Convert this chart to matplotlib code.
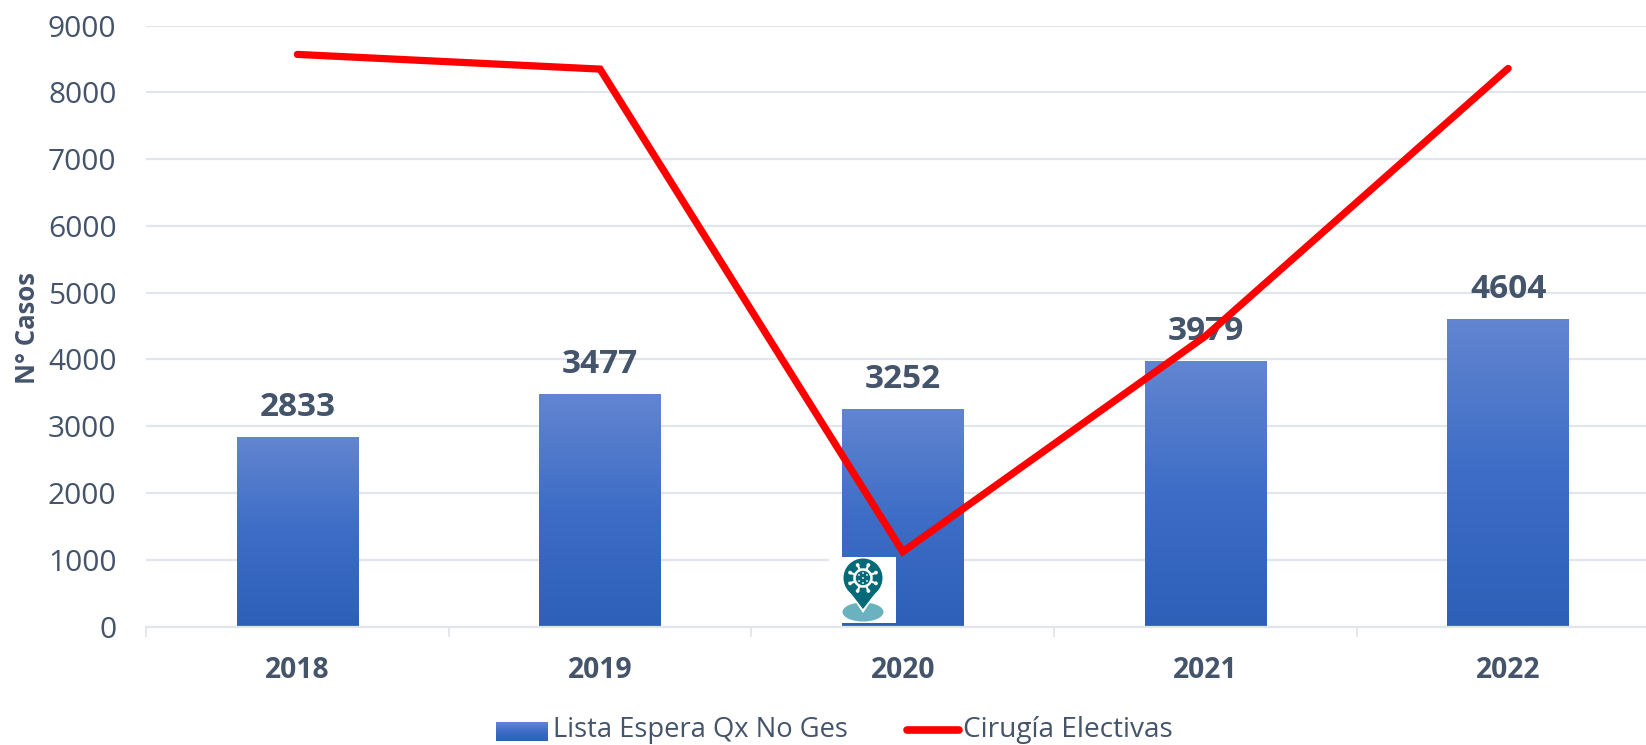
import numpy as np
import matplotlib
matplotlib.use('Agg')
import matplotlib.pyplot as plt
from matplotlib.colors import LinearSegmentedColormap
from matplotlib.patches import Rectangle, Circle, Ellipse, Polygon

years = ['2018', '2019', '2020', '2021', '2022']
lista_espera = [2833, 3477, 3252, 3979, 4604]
cirugias = [8570, 8350, 1120, 4350, 8360]
yticks = [0, 1000, 2000, 3000, 4000, 5000, 6000, 7000, 8000, 9000]

W, H = 1646, 745
txt = '#44546A'
grid = '#E2E6EC'
red = '#FF0000'
plt.rcParams['font.family'] = ['Open Sans', 'DejaVu Sans']

fig = plt.figure(figsize=(W/100, H/100), dpi=100)
ax = fig.add_axes([146/W, 1-626.5/H, (W-146)/W, (626.5-25.7)/H])

x = np.arange(5)
grad = LinearSegmentedColormap.from_list('g', ['#2E60B8', '#3D6DC6', '#6285D0'])
g = np.linspace(0, 1, 200).reshape(-1, 1)
w = 0.402
bars = ax.bar(x, lista_espera, width=w, color='none', zorder=2)
for b in bars:
    ax.imshow(g, cmap=grad, origin='lower', aspect='auto', zorder=2,
              extent=(b.get_x(), b.get_x()+w, 0, b.get_height()*0.997))

ax.plot(x, cirugias, color=red, lw=5.2, solid_capstyle='round',
        solid_joinstyle='miter', zorder=4)

for i, v in enumerate(lista_espera):
    ax.text(i, v+200, str(v), ha='center', va='bottom', fontsize=24,
            fontweight='bold', color=txt, zorder=3)

ax.set_xlim(-0.5, -0.5+(W-146)/302.7)
ax.set_ylim(0, 9000)
ax.set_yticks(yticks)
ax.set_xticks(x)
ax.set_xticklabels(years, fontsize=20.3, fontweight='bold', color=txt)
ax.set_xticks(np.arange(-0.5, 4.5, 1), minor=True)
ax.tick_params(axis='x', which='major', length=0, pad=21)
ax.tick_params(axis='x', which='minor', length=7, width=1.3, color=grid)
ax.tick_params(axis='y', length=0, pad=21.3, labelsize=21.5, labelcolor=txt)
ax.grid(axis='y', color=grid, lw=1.6, zorder=0)
ax.set_axisbelow(True)
for s in ['top', 'right', 'left']:
    ax.spines[s].set_visible(False)
ax.spines['bottom'].set_color(grid)
ax.spines['bottom'].set_linewidth(1.6)
ax.set_ylabel('N° Casos', fontsize=18.5, fontweight='bold', color=txt)
ax.yaxis.set_label_coords((41-146)/(W-146), 0.497)

# pixel overlay for the pasted pin icon and the legend
ov = fig.add_axes([0, 0, 1, 1], zorder=5)
ov.axis('off')
ov.patch.set_alpha(0)
ov.add_patch(Rectangle((829, 557), 67, 66, color='white', lw=0))
ov.add_patch(Ellipse((863, 612), 41, 19, color='#69B2BE', lw=0))
ov.add_patch(Polygon([(846, 588), (863, 613), (880, 588)], closed=True, color='white', lw=0))
ov.add_patch(Circle((863, 578), 19.5, color='#046A78', lw=0))
ov.add_patch(Polygon([(846, 587), (863, 609), (880, 587)], closed=True, color='#046A78', lw=0))
ov.add_patch(Circle((863, 578), 8.5, fc='#046A78', ec='white', lw=1.8))
for a in np.linspace(0, 2*np.pi, 8, endpoint=False) + np.pi/8:
    ov.plot([863+9*np.cos(a), 863+13.5*np.cos(a)], [578+9*np.sin(a), 578+13.5*np.sin(a)],
            color='white', lw=1.6, solid_capstyle='butt')
    ov.add_patch(Circle((863+14*np.cos(a), 578+14*np.sin(a)), 1.9, color='white', lw=0))
for dx, dy in [(0, 0), (-4, -3), (4, -3), (-4, 3), (4, 3), (0, -5), (0, 5)]:
    ov.add_patch(Circle((863+dx, 578+dy), 0.9, color='white', lw=0))

# legend
ov.imshow(g, cmap=grad, origin='lower', aspect='auto', extent=(496, 548, 741, 722), zorder=2)
ov.text(553, 730, 'Lista Espera Qx No Ges', fontsize=19.7, color=txt, va='center')
ov.plot([907, 959], [730, 730], color=red, lw=5.5, solid_capstyle='round')
ov.text(963, 730, 'Cirugía Electivas', fontsize=20.2, color=txt, va='center')
ov.set_xlim(0, W)
ov.set_ylim(H, 0)

fig.savefig('out.png', dpi=100)
